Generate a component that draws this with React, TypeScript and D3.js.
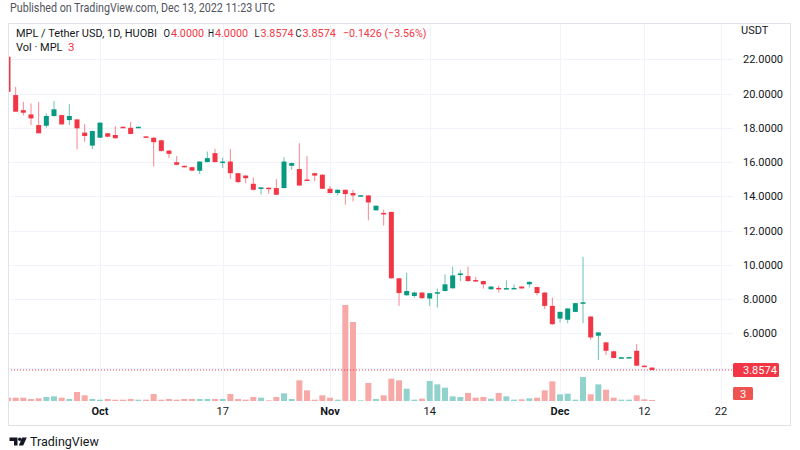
import React from 'react';
import * as d3 from 'd3';

// Daily candles, index 0 = Sep 19 2022 ... index 84 = Dec 13 2022 (one day missing in late Oct)
const opens = [22.15, 19.91, 19.03, 18.78, 18.16, 18.12, 18.69, 18.74, 18.45, 18.49, 17.72, 16.96, 17.42, 17.68, 17.58, 18.06, 18.0, 18.04, 17.5, 17.42, 17.27, 16.67, 15.99, 15.78, 15.7, 15.49, 16.0, 16.52, 15.95, 16.03, 15.35, 15.21, 14.73, 14.43, 14.5, 14.48, 14.48, 15.78, 15.59, 14.98, 15.35, 15.26, 14.44, 14.19, 14.38, 14.19, 14.04, 14.05, 13.18, 13.03, 13.09, 9.21, 8.22, 8.18, 8.38, 8.03, 8.36, 8.47, 8.63, 9.4, 9.34, 9.11, 9.05, 8.57, 8.65, 8.6, 8.62, 8.73, 8.86, 8.7, 8.38, 7.6, 6.86, 6.79, 7.25, 7.78, 6.98, 5.86, 5.47, 4.95, 4.56, 4.58, 4.98, 4.11, 4.0];
const highs = [22.2, 20.39, 19.52, 19.42, 19.52, 18.84, 19.56, 18.76, 19.38, 18.5, 18.22, 17.85, 18.32, 17.7, 18.1, 18.07, 18.35, 18.07, 17.51, 17.45, 17.3, 16.7, 16.36, 15.8, 15.72, 16.05, 16.61, 16.77, 16.26, 16.77, 15.36, 15.22, 15.1, 14.53, 14.52, 15.0, 16.28, 15.97, 17.1, 16.36, 15.37, 15.28, 14.6, 14.44, 14.4, 14.38, 14.07, 14.07, 13.46, 13.22, 13.1, 9.22, 9.54, 8.43, 8.4, 8.36, 8.61, 9.44, 9.89, 9.69, 9.89, 9.3, 9.07, 8.75, 8.78, 9.09, 8.86, 8.75, 9.05, 8.72, 8.4, 8.09, 7.27, 7.47, 7.78, 10.47, 7.0, 6.07, 5.49, 4.97, 4.6, 4.61, 5.37, 4.12, 4.0];
const lows = [20.05, 18.94, 18.73, 18.16, 17.68, 18.0, 18.65, 18.18, 18.16, 16.75, 17.19, 16.77, 17.4, 17.45, 17.37, 18.03, 17.62, 18.03, 17.45, 15.74, 16.6, 16.23, 15.82, 15.68, 15.48, 15.3, 15.98, 15.98, 15.65, 15.0, 14.77, 14.77, 14.33, 14.1, 14.15, 14.07, 14.46, 15.55, 14.6, 14.92, 14.87, 14.42, 14.18, 14.05, 13.51, 13.7, 14.03, 12.6, 13.17, 12.29, 9.2, 7.6, 8.2, 8.08, 8.03, 7.6, 7.5, 8.45, 8.6, 9.05, 9.02, 9.0, 8.61, 8.55, 8.38, 8.59, 8.6, 8.6, 8.67, 8.22, 7.41, 6.5, 6.63, 6.59, 7.24, 6.59, 5.62, 4.44, 4.73, 4.54, 4.56, 4.58, 4.09, 4.03, 3.8574];
const closes = [20.1, 18.94, 18.88, 18.55, 17.68, 18.69, 19.08, 18.2, 18.69, 17.97, 17.52, 17.81, 18.3, 17.48, 17.39, 18.04, 17.64, 18.06, 17.46, 17.16, 16.65, 16.48, 15.84, 15.7, 15.5, 16.03, 16.23, 16.0, 16.03, 15.35, 14.83, 15.06, 14.38, 14.52, 14.48, 14.09, 16.03, 15.94, 14.63, 14.94, 15.21, 14.44, 14.19, 14.38, 14.13, 14.05, 14.06, 13.64, 13.45, 12.97, 9.21, 8.35, 8.47, 8.38, 8.05, 8.34, 8.4, 8.86, 9.38, 9.5, 9.05, 9.03, 8.86, 8.73, 8.6, 8.64, 8.65, 8.62, 9.0, 8.35, 7.6, 6.53, 7.25, 7.45, 7.76, 7.81, 5.76, 6.05, 4.98, 4.56, 4.6, 4.61, 4.11, 4.05, 3.8574];
const volumes = [10, 10, 10, 6, 8, 12, 14, 10, 6, 27, 17, 6, 4, 6, 4, 4, 6, 4, 4, 21, 4, 6, 4, 6, 6, 6, 6, 6, 6, 21, 6, 4, 12, 10, 2, 12, 23, 6, 62, 32, 4, 17, 10, 4, 288, 237, 2, 54, 6, 17, 67, 62, 37, 4, 7, 60, 50, 40, 14, 12, 24, 10, 12, 7, 24, 14, 4, 5, 8, 10, 32, 59, 20, 22, 4, 72, 20, 50, 34, 10, 4, 4, 17, 5, 3];

const priceTicks = [6, 8, 10, 12, 14, 16, 18, 20, 22];
const gridTicks = [4, 6, 8, 10, 12, 14, 16, 18, 20, 22];
const timeTickIndex = [12, 28, 42, 55, 72, 83, 93];
const timeTickLabels = ['Oct', '17', 'Nov', '14', 'Dec', '12', '22'];
const timeTickBold = [true, false, true, false, true, false, false];

const lastPrice = 3.8574;
const lastVolume = 3;

const UP = '#089981';
const DOWN = '#F23645';
const UP_VOL = '#92D2CC';
const DOWN_VOL = '#F7A9A7';
const FONT = "'Trebuchet MS', Roboto, 'DejaVu Sans', sans-serif";

export default function App() {
  const plotL = 8, plotR = 733, plotT = 23, plotB = 403;
  const step = 7.667;
  const x = d3.scaleLinear().domain([0, 93]).range([8, 8 + 93 * step]);
  const y = d3.scaleLinear().domain([6, 22]).range([333.3, 59.3]);
  const yv = d3.scaleLinear().domain([0, 300]).range([401, 301]);
  const bodyW = 5;
  const volW = 6;

  return (
    <svg width={800} height={450} style={{ position: 'absolute', left: 0, top: 0, display: 'block', background: '#fff' }}
      fontFamily={FONT}>
      <defs>
        <clipPath id="plotClip">
          <rect x={plotL + 0.5} y={plotT} width={plotR - plotL - 0.5} height={plotB - plotT} />
        </clipPath>
      </defs>
      <rect x={0} y={0} width={800} height={450} fill="#fff" />
      <text x={10} y={12} fontSize={12} fill="#50535E" textLength={265} lengthAdjust="spacingAndGlyphs">Published on TradingView.com, Dec 13, 2022 11:23 UTC</text>

      {/* grid */}
      <g stroke="#F0F3FA" strokeWidth={1}>
        {gridTicks.map(t => (
          <line key={'h' + t} x1={plotL} x2={plotR} y1={Math.round(y(t)) + 0.5} y2={Math.round(y(t)) + 0.5} />
        ))}
        {timeTickIndex.map(i => (
          <line key={'v' + i} x1={Math.round(x(i)) + 0.5} x2={Math.round(x(i)) + 0.5} y1={plotT} y2={plotB} />
        ))}
      </g>

      <g clipPath="url(#plotClip)">
        {/* volume */}
        {volumes.map((v, i) => {
          const up = closes[i] >= opens[i];
          const top = yv(v);
          return (
            <rect key={'vol' + i} x={x(i) - volW / 2} y={top} width={volW} height={Math.max(0.7, yv(0) - top)}
              fill={up ? UP_VOL : DOWN_VOL} />
          );
        })}
        {/* last price line */}
        <line x1={plotL} x2={plotR} y1={y(lastPrice)} y2={y(lastPrice)} stroke={DOWN} strokeWidth={1} strokeDasharray="1 2" />
        {/* candles */}
        {opens.map((o, i) => {
          const c = closes[i];
          const up = c >= o;
          const col = up ? UP : DOWN;
          const cx = x(i);
          const top = y(Math.max(o, c));
          const bot = y(Math.min(o, c));
          return (
            <g key={'c' + i}>
              <line x1={cx} x2={cx} y1={y(highs[i])} y2={y(lows[i])} stroke={col} strokeOpacity={0.6} strokeWidth={1} />
              <rect x={cx - bodyW / 2} y={top} width={bodyW} height={Math.max(1.5, bot - top)} fill={col} />
            </g>
          );
        })}
      </g>

      {/* legend */}
      <g fontSize={11.5} fill="#131722">
        <text x={16} y={37} textLength={141} lengthAdjust="spacingAndGlyphs">MPL / Tether USD, 1D, HUOBI</text>
        <text x={163.5} y={37} textLength={6.5} lengthAdjust="spacingAndGlyphs">O</text>
        <text x={171} y={37} fill={DOWN} textLength={33} lengthAdjust="spacingAndGlyphs">4.0000</text>
        <text x={208} y={37} textLength={6} lengthAdjust="spacingAndGlyphs">H</text>
        <text x={215} y={37} fill={DOWN} textLength={33} lengthAdjust="spacingAndGlyphs">4.0000</text>
        <text x={254.5} y={37} textLength={5} lengthAdjust="spacingAndGlyphs">L</text>
        <text x={260.5} y={37} fill={DOWN} textLength={33} lengthAdjust="spacingAndGlyphs">3.8574</text>
        <text x={295.5} y={37} textLength={6} lengthAdjust="spacingAndGlyphs">C</text>
        <text x={302.5} y={37} fill={DOWN} textLength={33.5} lengthAdjust="spacingAndGlyphs">3.8574</text>
        <text x={343} y={37} fill={DOWN} textLength={83.5} lengthAdjust="spacingAndGlyphs">−0.1426 (−3.56%)</text>
        <text x={16} y={51} textLength={46.5} lengthAdjust="spacingAndGlyphs">Vol · MPL</text>
        <text x={68} y={51} fill={DOWN}>3</text>
      </g>

      {/* price axis */}
      <text x={741} y={34} fontSize={11} fill="#131722">USDT</text>
      {priceTicks.map(t => (
        <text key={'pt' + t} x={743} y={y(t) + 4} fontSize={11} fill="#131722">{t.toFixed(4)}</text>
      ))}
      <rect x={733} y={y(lastPrice) - 7} width={46} height={14} rx={1.5} fill={DOWN} />
      <text x={743} y={y(lastPrice) + 4} fontSize={11} fill="#fff">{lastPrice.toFixed(4)}</text>
      <rect x={733} y={yv(lastVolume) - 13} width={20} height={13} rx={1.5} fill="#EF5350" />
      <text x={743} y={yv(lastVolume) - 2.5} fontSize={11} fill="#fff" textAnchor="middle">{lastVolume}</text>

      {/* time axis */}
      {timeTickIndex.map((i, k) => (
        <text key={'tt' + i} x={x(i)} y={415} fontSize={11} textAnchor="middle" fill="#131722"
          fontWeight={timeTickBold[k] ? 'bold' : 'normal'}>{timeTickLabels[k]}</text>
      ))}

      {/* frame */}
      <rect x={8.5} y={23.5} width={782} height={402} fill="none" stroke="#E0E3EB" strokeWidth={1} />

      {/* logo */}
      <g fill="#131722">
        <path d="M9.5 437.5 h8 v8 h-3.5 v-4.5 h-4.5 z" />
        <circle cx={19.8} cy={439.3} r={1.8} />
        <path d="M22.2 437.5 h4.6 l-3.6 8 h-4.4 z" />
      </g>
      <text x={30} y={446} fontSize={12.5} fill="#131722">TradingView</text>
    </svg>
  );
}
